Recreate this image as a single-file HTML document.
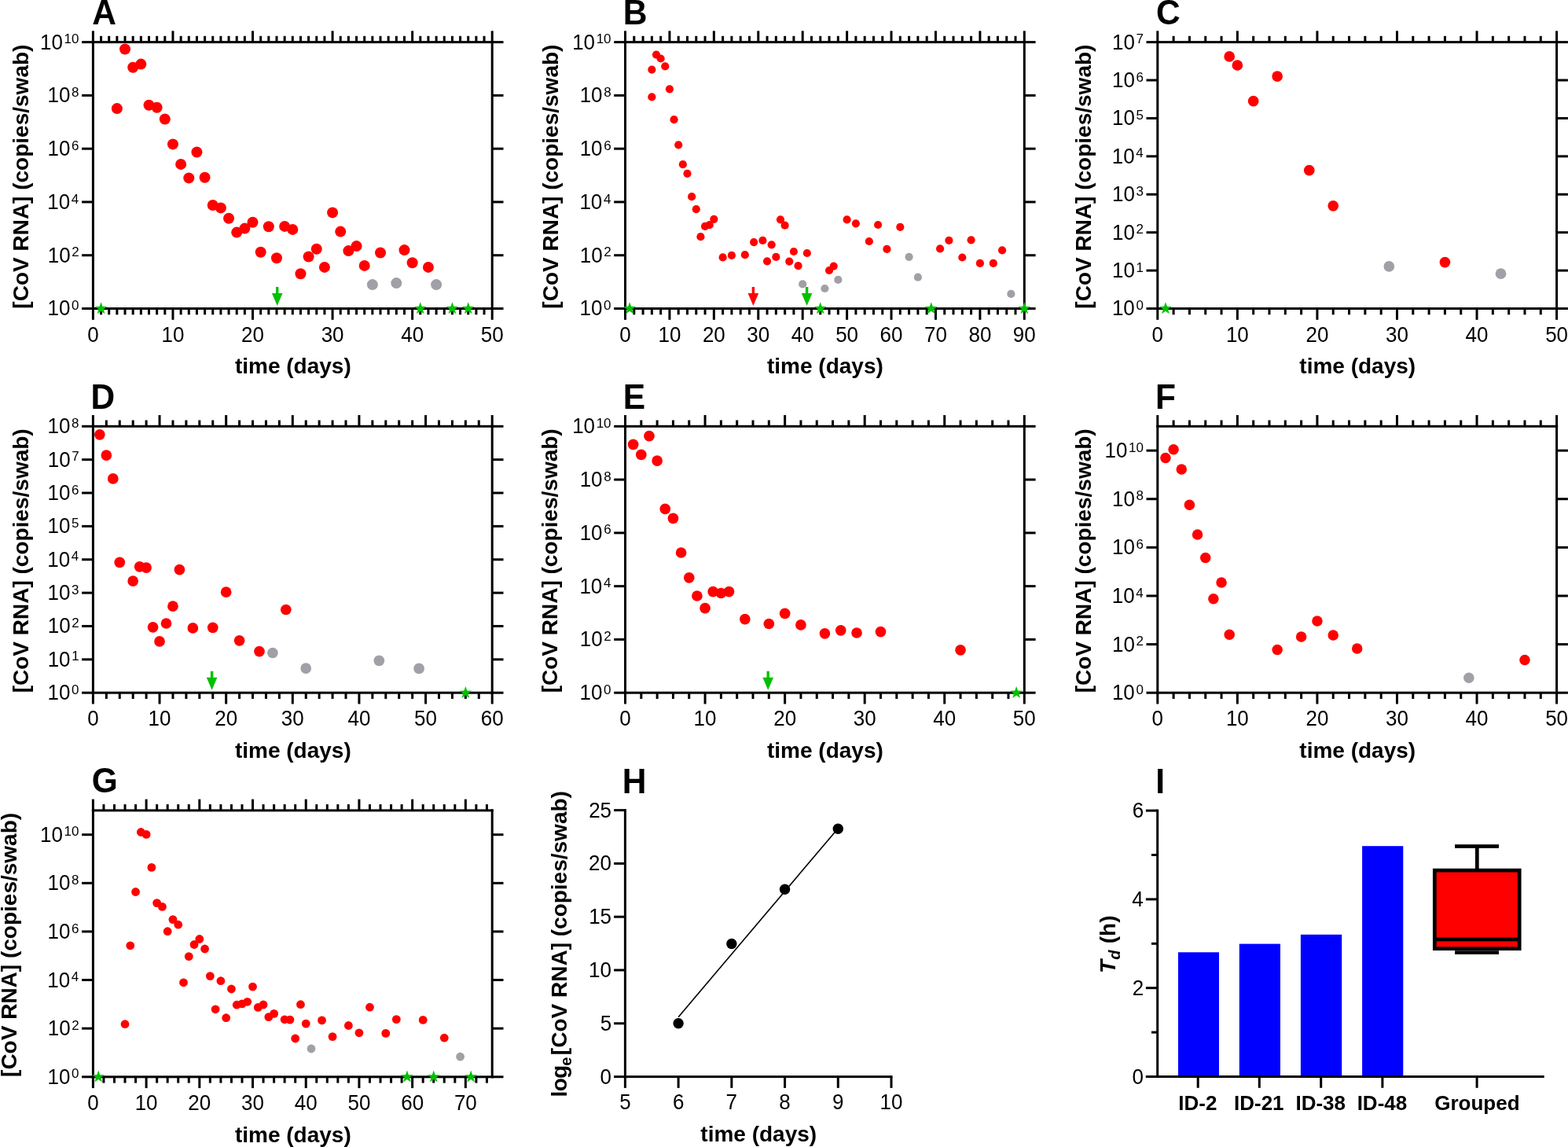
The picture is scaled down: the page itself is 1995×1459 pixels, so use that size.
<!DOCTYPE html>
<html><head><meta charset="utf-8"><title>Figure</title>
<style>html,body{margin:0;padding:0;background:#fff;}svg{display:block;}</style></head>
<body><svg width="1995" height="1459" viewBox="0 0 1995 1459" font-family="'Liberation Sans', Arial, sans-serif">
<rect width="1995" height="1459" fill="#fff"/>
<rect x="104.1" y="391" width="14.3" height="3" fill="#000"/>
<rect x="626.2" y="391" width="14.3" height="3" fill="#000"/>
<rect x="104.1" y="323.22" width="14.3" height="3" fill="#000"/>
<rect x="626.2" y="323.22" width="14.3" height="3" fill="#000"/>
<rect x="104.1" y="255.44" width="14.3" height="3" fill="#000"/>
<rect x="626.2" y="255.44" width="14.3" height="3" fill="#000"/>
<rect x="104.1" y="187.66" width="14.3" height="3" fill="#000"/>
<rect x="626.2" y="187.66" width="14.3" height="3" fill="#000"/>
<rect x="104.1" y="119.88" width="14.3" height="3" fill="#000"/>
<rect x="626.2" y="119.88" width="14.3" height="3" fill="#000"/>
<rect x="104.1" y="52.1" width="14.3" height="3" fill="#000"/>
<rect x="626.2" y="52.1" width="14.3" height="3" fill="#000"/>
<rect x="116.9" y="52.1" width="510.8" height="3" fill="#000"/>
<rect x="116.9" y="391" width="510.8" height="3" fill="#000"/>
<rect x="116.9" y="39.3" width="3" height="14.3" fill="#000"/>
<rect x="116.9" y="392.5" width="3" height="14.3" fill="#000"/>
<rect x="127.06" y="45.8" width="3" height="7.8" fill="#000"/>
<rect x="127.06" y="392.5" width="3" height="7.8" fill="#000"/>
<rect x="137.21" y="45.8" width="3" height="7.8" fill="#000"/>
<rect x="137.21" y="392.5" width="3" height="7.8" fill="#000"/>
<rect x="147.37" y="45.8" width="3" height="7.8" fill="#000"/>
<rect x="147.37" y="392.5" width="3" height="7.8" fill="#000"/>
<rect x="157.52" y="45.8" width="3" height="7.8" fill="#000"/>
<rect x="157.52" y="392.5" width="3" height="7.8" fill="#000"/>
<rect x="167.68" y="45.8" width="3" height="7.8" fill="#000"/>
<rect x="167.68" y="392.5" width="3" height="7.8" fill="#000"/>
<rect x="177.84" y="45.8" width="3" height="7.8" fill="#000"/>
<rect x="177.84" y="392.5" width="3" height="7.8" fill="#000"/>
<rect x="187.99" y="45.8" width="3" height="7.8" fill="#000"/>
<rect x="187.99" y="392.5" width="3" height="7.8" fill="#000"/>
<rect x="198.15" y="45.8" width="3" height="7.8" fill="#000"/>
<rect x="198.15" y="392.5" width="3" height="7.8" fill="#000"/>
<rect x="208.3" y="45.8" width="3" height="7.8" fill="#000"/>
<rect x="208.3" y="392.5" width="3" height="7.8" fill="#000"/>
<rect x="218.46" y="39.3" width="3" height="14.3" fill="#000"/>
<rect x="218.46" y="392.5" width="3" height="14.3" fill="#000"/>
<rect x="228.62" y="45.8" width="3" height="7.8" fill="#000"/>
<rect x="228.62" y="392.5" width="3" height="7.8" fill="#000"/>
<rect x="238.77" y="45.8" width="3" height="7.8" fill="#000"/>
<rect x="238.77" y="392.5" width="3" height="7.8" fill="#000"/>
<rect x="248.93" y="45.8" width="3" height="7.8" fill="#000"/>
<rect x="248.93" y="392.5" width="3" height="7.8" fill="#000"/>
<rect x="259.08" y="45.8" width="3" height="7.8" fill="#000"/>
<rect x="259.08" y="392.5" width="3" height="7.8" fill="#000"/>
<rect x="269.24" y="45.8" width="3" height="7.8" fill="#000"/>
<rect x="269.24" y="392.5" width="3" height="7.8" fill="#000"/>
<rect x="279.4" y="45.8" width="3" height="7.8" fill="#000"/>
<rect x="279.4" y="392.5" width="3" height="7.8" fill="#000"/>
<rect x="289.55" y="45.8" width="3" height="7.8" fill="#000"/>
<rect x="289.55" y="392.5" width="3" height="7.8" fill="#000"/>
<rect x="299.71" y="45.8" width="3" height="7.8" fill="#000"/>
<rect x="299.71" y="392.5" width="3" height="7.8" fill="#000"/>
<rect x="309.86" y="45.8" width="3" height="7.8" fill="#000"/>
<rect x="309.86" y="392.5" width="3" height="7.8" fill="#000"/>
<rect x="320.02" y="39.3" width="3" height="14.3" fill="#000"/>
<rect x="320.02" y="392.5" width="3" height="14.3" fill="#000"/>
<rect x="330.18" y="45.8" width="3" height="7.8" fill="#000"/>
<rect x="330.18" y="392.5" width="3" height="7.8" fill="#000"/>
<rect x="340.33" y="45.8" width="3" height="7.8" fill="#000"/>
<rect x="340.33" y="392.5" width="3" height="7.8" fill="#000"/>
<rect x="350.49" y="45.8" width="3" height="7.8" fill="#000"/>
<rect x="350.49" y="392.5" width="3" height="7.8" fill="#000"/>
<rect x="360.64" y="45.8" width="3" height="7.8" fill="#000"/>
<rect x="360.64" y="392.5" width="3" height="7.8" fill="#000"/>
<rect x="370.8" y="45.8" width="3" height="7.8" fill="#000"/>
<rect x="370.8" y="392.5" width="3" height="7.8" fill="#000"/>
<rect x="380.96" y="45.8" width="3" height="7.8" fill="#000"/>
<rect x="380.96" y="392.5" width="3" height="7.8" fill="#000"/>
<rect x="391.11" y="45.8" width="3" height="7.8" fill="#000"/>
<rect x="391.11" y="392.5" width="3" height="7.8" fill="#000"/>
<rect x="401.27" y="45.8" width="3" height="7.8" fill="#000"/>
<rect x="401.27" y="392.5" width="3" height="7.8" fill="#000"/>
<rect x="411.42" y="45.8" width="3" height="7.8" fill="#000"/>
<rect x="411.42" y="392.5" width="3" height="7.8" fill="#000"/>
<rect x="421.58" y="39.3" width="3" height="14.3" fill="#000"/>
<rect x="421.58" y="392.5" width="3" height="14.3" fill="#000"/>
<rect x="431.74" y="45.8" width="3" height="7.8" fill="#000"/>
<rect x="431.74" y="392.5" width="3" height="7.8" fill="#000"/>
<rect x="441.89" y="45.8" width="3" height="7.8" fill="#000"/>
<rect x="441.89" y="392.5" width="3" height="7.8" fill="#000"/>
<rect x="452.05" y="45.8" width="3" height="7.8" fill="#000"/>
<rect x="452.05" y="392.5" width="3" height="7.8" fill="#000"/>
<rect x="462.2" y="45.8" width="3" height="7.8" fill="#000"/>
<rect x="462.2" y="392.5" width="3" height="7.8" fill="#000"/>
<rect x="472.36" y="45.8" width="3" height="7.8" fill="#000"/>
<rect x="472.36" y="392.5" width="3" height="7.8" fill="#000"/>
<rect x="482.52" y="45.8" width="3" height="7.8" fill="#000"/>
<rect x="482.52" y="392.5" width="3" height="7.8" fill="#000"/>
<rect x="492.67" y="45.8" width="3" height="7.8" fill="#000"/>
<rect x="492.67" y="392.5" width="3" height="7.8" fill="#000"/>
<rect x="502.83" y="45.8" width="3" height="7.8" fill="#000"/>
<rect x="502.83" y="392.5" width="3" height="7.8" fill="#000"/>
<rect x="512.98" y="45.8" width="3" height="7.8" fill="#000"/>
<rect x="512.98" y="392.5" width="3" height="7.8" fill="#000"/>
<rect x="523.14" y="39.3" width="3" height="14.3" fill="#000"/>
<rect x="523.14" y="392.5" width="3" height="14.3" fill="#000"/>
<rect x="533.3" y="45.8" width="3" height="7.8" fill="#000"/>
<rect x="533.3" y="392.5" width="3" height="7.8" fill="#000"/>
<rect x="543.45" y="45.8" width="3" height="7.8" fill="#000"/>
<rect x="543.45" y="392.5" width="3" height="7.8" fill="#000"/>
<rect x="553.61" y="45.8" width="3" height="7.8" fill="#000"/>
<rect x="553.61" y="392.5" width="3" height="7.8" fill="#000"/>
<rect x="563.76" y="45.8" width="3" height="7.8" fill="#000"/>
<rect x="563.76" y="392.5" width="3" height="7.8" fill="#000"/>
<rect x="573.92" y="45.8" width="3" height="7.8" fill="#000"/>
<rect x="573.92" y="392.5" width="3" height="7.8" fill="#000"/>
<rect x="584.08" y="45.8" width="3" height="7.8" fill="#000"/>
<rect x="584.08" y="392.5" width="3" height="7.8" fill="#000"/>
<rect x="594.23" y="45.8" width="3" height="7.8" fill="#000"/>
<rect x="594.23" y="392.5" width="3" height="7.8" fill="#000"/>
<rect x="604.39" y="45.8" width="3" height="7.8" fill="#000"/>
<rect x="604.39" y="392.5" width="3" height="7.8" fill="#000"/>
<rect x="614.54" y="45.8" width="3" height="7.8" fill="#000"/>
<rect x="614.54" y="392.5" width="3" height="7.8" fill="#000"/>
<rect x="624.7" y="39.3" width="3" height="14.3" fill="#000"/>
<rect x="624.7" y="392.5" width="3" height="14.3" fill="#000"/>
<rect x="116.9" y="52.1" width="3" height="341.9" fill="#000"/>
<rect x="624.7" y="52.1" width="3" height="341.9" fill="#000"/>
<text transform="translate(91.01,394.1) scale(1,1.02)" font-size="17">0</text>
<text transform="translate(60.49,401.45) scale(1,1.065)" font-size="26">10</text>
<text transform="translate(91.2,326.32) scale(1,1.02)" font-size="17">2</text>
<text transform="translate(60.68,333.67) scale(1,1.065)" font-size="26">10</text>
<text transform="translate(90.84,258.54) scale(1,1.02)" font-size="17">4</text>
<text transform="translate(60.32,265.89) scale(1,1.065)" font-size="26">10</text>
<text transform="translate(91.09,190.76) scale(1,1.02)" font-size="17">6</text>
<text transform="translate(60.57,198.11) scale(1,1.065)" font-size="26">10</text>
<text transform="translate(91.08,122.98) scale(1,1.02)" font-size="17">8</text>
<text transform="translate(60.56,130.33) scale(1,1.065)" font-size="26">10</text>
<text transform="translate(81.55,55.2) scale(1,1.02)" font-size="17">10</text>
<text transform="translate(51.03,62.55) scale(1,1.065)" font-size="26">10</text>
<text transform="translate(118.4,434.7) scale(1,1.065)" font-size="26" text-anchor="middle">0</text>
<text transform="translate(219.96,434.7) scale(1,1.065)" font-size="26" text-anchor="middle">10</text>
<text transform="translate(321.52,434.7) scale(1,1.065)" font-size="26" text-anchor="middle">20</text>
<text transform="translate(423.08,434.7) scale(1,1.065)" font-size="26" text-anchor="middle">30</text>
<text transform="translate(524.64,434.7) scale(1,1.065)" font-size="26" text-anchor="middle">40</text>
<text transform="translate(626.2,434.7) scale(1,1.065)" font-size="26" text-anchor="middle">50</text>
<circle cx="473.86" cy="362.1" r="7.0" fill="#a0a0a6"/>
<circle cx="504.33" cy="360.1" r="7.0" fill="#a0a0a6"/>
<circle cx="555.11" cy="362.1" r="7.0" fill="#a0a0a6"/>
<circle cx="148.87" cy="138.1" r="7.0" fill="#ff0000"/>
<circle cx="159.02" cy="62.5" r="7.0" fill="#ff0000"/>
<circle cx="169.18" cy="85.7" r="7.0" fill="#ff0000"/>
<circle cx="179.34" cy="81.6" r="7.0" fill="#ff0000"/>
<circle cx="189.49" cy="133.7" r="7.0" fill="#ff0000"/>
<circle cx="199.65" cy="136.7" r="7.0" fill="#ff0000"/>
<circle cx="209.8" cy="151.5" r="7.0" fill="#ff0000"/>
<circle cx="219.96" cy="183.4" r="7.0" fill="#ff0000"/>
<circle cx="230.12" cy="208.9" r="7.0" fill="#ff0000"/>
<circle cx="240.27" cy="226.4" r="7.0" fill="#ff0000"/>
<circle cx="250.43" cy="193.5" r="7.0" fill="#ff0000"/>
<circle cx="260.58" cy="225.7" r="7.0" fill="#ff0000"/>
<circle cx="270.74" cy="261" r="7.0" fill="#ff0000"/>
<circle cx="280.9" cy="264.4" r="7.0" fill="#ff0000"/>
<circle cx="291.05" cy="277.8" r="7.0" fill="#ff0000"/>
<circle cx="301.21" cy="295.6" r="7.0" fill="#ff0000"/>
<circle cx="311.36" cy="290.6" r="7.0" fill="#ff0000"/>
<circle cx="321.52" cy="282.8" r="7.0" fill="#ff0000"/>
<circle cx="331.68" cy="320.8" r="7.0" fill="#ff0000"/>
<circle cx="341.83" cy="288.2" r="7.0" fill="#ff0000"/>
<circle cx="351.99" cy="328.2" r="7.0" fill="#ff0000"/>
<circle cx="362.14" cy="287.9" r="7.0" fill="#ff0000"/>
<circle cx="372.3" cy="291.9" r="7.0" fill="#ff0000"/>
<circle cx="382.46" cy="348.3" r="7.0" fill="#ff0000"/>
<circle cx="392.61" cy="326.5" r="7.0" fill="#ff0000"/>
<circle cx="402.77" cy="316.8" r="7.0" fill="#ff0000"/>
<circle cx="412.92" cy="339.9" r="7.0" fill="#ff0000"/>
<circle cx="423.08" cy="270.4" r="7.0" fill="#ff0000"/>
<circle cx="433.24" cy="294.6" r="7.0" fill="#ff0000"/>
<circle cx="443.39" cy="319.1" r="7.0" fill="#ff0000"/>
<circle cx="453.55" cy="313.1" r="7.0" fill="#ff0000"/>
<circle cx="463.7" cy="337.9" r="7.0" fill="#ff0000"/>
<circle cx="484.02" cy="321.5" r="7.0" fill="#ff0000"/>
<circle cx="514.48" cy="318.1" r="7.0" fill="#ff0000"/>
<circle cx="524.64" cy="334.2" r="7.0" fill="#ff0000"/>
<circle cx="544.95" cy="339.9" r="7.0" fill="#ff0000"/>
<polygon points="128.56,384.2 130.5,389.83 136.45,389.94 131.69,393.52 133.43,399.21 128.56,395.8 123.68,399.21 125.42,393.52 120.66,389.94 126.62,389.83" fill="#00c000"/>
<polygon points="534.8,384.2 536.74,389.83 542.69,389.94 537.93,393.52 539.67,399.21 534.8,395.8 529.92,399.21 531.66,393.52 526.9,389.94 532.86,389.83" fill="#00c000"/>
<polygon points="575.42,384.2 577.36,389.83 583.31,389.94 578.56,393.52 580.3,399.21 575.42,395.8 570.54,399.21 572.28,393.52 567.53,389.94 573.48,389.83" fill="#00c000"/>
<polygon points="595.73,384.2 597.67,389.83 603.63,389.94 598.87,393.52 600.61,399.21 595.73,395.8 590.85,399.21 592.59,393.52 587.84,389.94 593.79,389.83" fill="#00c000"/>
<polygon points="351,365 354.4,365 354.4,373 359.5,373 352.7,389 345.9,373 351,373" fill="#00c000"/>
<text x="298.92" y="475.2" font-size="28" font-weight="bold">time (days)</text>
<text transform="translate(36.1,224.55) rotate(-90)" x="-168.1" y="0" font-size="28" font-weight="bold">[CoV RNA] (copies/swab)</text>
<text transform="translate(117.34,31) scale(1,1.05)" font-size="42.5" font-weight="bold">A</text>
<rect x="781.2" y="391" width="14.3" height="3" fill="#000"/>
<rect x="1303.3" y="391" width="14.3" height="3" fill="#000"/>
<rect x="781.2" y="323.22" width="14.3" height="3" fill="#000"/>
<rect x="1303.3" y="323.22" width="14.3" height="3" fill="#000"/>
<rect x="781.2" y="255.44" width="14.3" height="3" fill="#000"/>
<rect x="1303.3" y="255.44" width="14.3" height="3" fill="#000"/>
<rect x="781.2" y="187.66" width="14.3" height="3" fill="#000"/>
<rect x="1303.3" y="187.66" width="14.3" height="3" fill="#000"/>
<rect x="781.2" y="119.88" width="14.3" height="3" fill="#000"/>
<rect x="1303.3" y="119.88" width="14.3" height="3" fill="#000"/>
<rect x="781.2" y="52.1" width="14.3" height="3" fill="#000"/>
<rect x="1303.3" y="52.1" width="14.3" height="3" fill="#000"/>
<rect x="794" y="52.1" width="510.8" height="3" fill="#000"/>
<rect x="794" y="391" width="510.8" height="3" fill="#000"/>
<rect x="794" y="39.3" width="3" height="14.3" fill="#000"/>
<rect x="794" y="392.5" width="3" height="14.3" fill="#000"/>
<rect x="805.28" y="45.8" width="3" height="7.8" fill="#000"/>
<rect x="805.28" y="392.5" width="3" height="7.8" fill="#000"/>
<rect x="816.57" y="45.8" width="3" height="7.8" fill="#000"/>
<rect x="816.57" y="392.5" width="3" height="7.8" fill="#000"/>
<rect x="827.85" y="45.8" width="3" height="7.8" fill="#000"/>
<rect x="827.85" y="392.5" width="3" height="7.8" fill="#000"/>
<rect x="839.14" y="45.8" width="3" height="7.8" fill="#000"/>
<rect x="839.14" y="392.5" width="3" height="7.8" fill="#000"/>
<rect x="850.42" y="39.3" width="3" height="14.3" fill="#000"/>
<rect x="850.42" y="392.5" width="3" height="14.3" fill="#000"/>
<rect x="861.71" y="45.8" width="3" height="7.8" fill="#000"/>
<rect x="861.71" y="392.5" width="3" height="7.8" fill="#000"/>
<rect x="872.99" y="45.8" width="3" height="7.8" fill="#000"/>
<rect x="872.99" y="392.5" width="3" height="7.8" fill="#000"/>
<rect x="884.28" y="45.8" width="3" height="7.8" fill="#000"/>
<rect x="884.28" y="392.5" width="3" height="7.8" fill="#000"/>
<rect x="895.56" y="45.8" width="3" height="7.8" fill="#000"/>
<rect x="895.56" y="392.5" width="3" height="7.8" fill="#000"/>
<rect x="906.84" y="39.3" width="3" height="14.3" fill="#000"/>
<rect x="906.84" y="392.5" width="3" height="14.3" fill="#000"/>
<rect x="918.13" y="45.8" width="3" height="7.8" fill="#000"/>
<rect x="918.13" y="392.5" width="3" height="7.8" fill="#000"/>
<rect x="929.41" y="45.8" width="3" height="7.8" fill="#000"/>
<rect x="929.41" y="392.5" width="3" height="7.8" fill="#000"/>
<rect x="940.7" y="45.8" width="3" height="7.8" fill="#000"/>
<rect x="940.7" y="392.5" width="3" height="7.8" fill="#000"/>
<rect x="951.98" y="45.8" width="3" height="7.8" fill="#000"/>
<rect x="951.98" y="392.5" width="3" height="7.8" fill="#000"/>
<rect x="963.27" y="39.3" width="3" height="14.3" fill="#000"/>
<rect x="963.27" y="392.5" width="3" height="14.3" fill="#000"/>
<rect x="974.55" y="45.8" width="3" height="7.8" fill="#000"/>
<rect x="974.55" y="392.5" width="3" height="7.8" fill="#000"/>
<rect x="985.84" y="45.8" width="3" height="7.8" fill="#000"/>
<rect x="985.84" y="392.5" width="3" height="7.8" fill="#000"/>
<rect x="997.12" y="45.8" width="3" height="7.8" fill="#000"/>
<rect x="997.12" y="392.5" width="3" height="7.8" fill="#000"/>
<rect x="1008.4" y="45.8" width="3" height="7.8" fill="#000"/>
<rect x="1008.4" y="392.5" width="3" height="7.8" fill="#000"/>
<rect x="1019.69" y="39.3" width="3" height="14.3" fill="#000"/>
<rect x="1019.69" y="392.5" width="3" height="14.3" fill="#000"/>
<rect x="1030.97" y="45.8" width="3" height="7.8" fill="#000"/>
<rect x="1030.97" y="392.5" width="3" height="7.8" fill="#000"/>
<rect x="1042.26" y="45.8" width="3" height="7.8" fill="#000"/>
<rect x="1042.26" y="392.5" width="3" height="7.8" fill="#000"/>
<rect x="1053.54" y="45.8" width="3" height="7.8" fill="#000"/>
<rect x="1053.54" y="392.5" width="3" height="7.8" fill="#000"/>
<rect x="1064.83" y="45.8" width="3" height="7.8" fill="#000"/>
<rect x="1064.83" y="392.5" width="3" height="7.8" fill="#000"/>
<rect x="1076.11" y="39.3" width="3" height="14.3" fill="#000"/>
<rect x="1076.11" y="392.5" width="3" height="14.3" fill="#000"/>
<rect x="1087.4" y="45.8" width="3" height="7.8" fill="#000"/>
<rect x="1087.4" y="392.5" width="3" height="7.8" fill="#000"/>
<rect x="1098.68" y="45.8" width="3" height="7.8" fill="#000"/>
<rect x="1098.68" y="392.5" width="3" height="7.8" fill="#000"/>
<rect x="1109.96" y="45.8" width="3" height="7.8" fill="#000"/>
<rect x="1109.96" y="392.5" width="3" height="7.8" fill="#000"/>
<rect x="1121.25" y="45.8" width="3" height="7.8" fill="#000"/>
<rect x="1121.25" y="392.5" width="3" height="7.8" fill="#000"/>
<rect x="1132.53" y="39.3" width="3" height="14.3" fill="#000"/>
<rect x="1132.53" y="392.5" width="3" height="14.3" fill="#000"/>
<rect x="1143.82" y="45.8" width="3" height="7.8" fill="#000"/>
<rect x="1143.82" y="392.5" width="3" height="7.8" fill="#000"/>
<rect x="1155.1" y="45.8" width="3" height="7.8" fill="#000"/>
<rect x="1155.1" y="392.5" width="3" height="7.8" fill="#000"/>
<rect x="1166.39" y="45.8" width="3" height="7.8" fill="#000"/>
<rect x="1166.39" y="392.5" width="3" height="7.8" fill="#000"/>
<rect x="1177.67" y="45.8" width="3" height="7.8" fill="#000"/>
<rect x="1177.67" y="392.5" width="3" height="7.8" fill="#000"/>
<rect x="1188.96" y="39.3" width="3" height="14.3" fill="#000"/>
<rect x="1188.96" y="392.5" width="3" height="14.3" fill="#000"/>
<rect x="1200.24" y="45.8" width="3" height="7.8" fill="#000"/>
<rect x="1200.24" y="392.5" width="3" height="7.8" fill="#000"/>
<rect x="1211.52" y="45.8" width="3" height="7.8" fill="#000"/>
<rect x="1211.52" y="392.5" width="3" height="7.8" fill="#000"/>
<rect x="1222.81" y="45.8" width="3" height="7.8" fill="#000"/>
<rect x="1222.81" y="392.5" width="3" height="7.8" fill="#000"/>
<rect x="1234.09" y="45.8" width="3" height="7.8" fill="#000"/>
<rect x="1234.09" y="392.5" width="3" height="7.8" fill="#000"/>
<rect x="1245.38" y="39.3" width="3" height="14.3" fill="#000"/>
<rect x="1245.38" y="392.5" width="3" height="14.3" fill="#000"/>
<rect x="1256.66" y="45.8" width="3" height="7.8" fill="#000"/>
<rect x="1256.66" y="392.5" width="3" height="7.8" fill="#000"/>
<rect x="1267.95" y="45.8" width="3" height="7.8" fill="#000"/>
<rect x="1267.95" y="392.5" width="3" height="7.8" fill="#000"/>
<rect x="1279.23" y="45.8" width="3" height="7.8" fill="#000"/>
<rect x="1279.23" y="392.5" width="3" height="7.8" fill="#000"/>
<rect x="1290.52" y="45.8" width="3" height="7.8" fill="#000"/>
<rect x="1290.52" y="392.5" width="3" height="7.8" fill="#000"/>
<rect x="1301.8" y="39.3" width="3" height="14.3" fill="#000"/>
<rect x="1301.8" y="392.5" width="3" height="14.3" fill="#000"/>
<rect x="794" y="52.1" width="3" height="341.9" fill="#000"/>
<rect x="1301.8" y="52.1" width="3" height="341.9" fill="#000"/>
<text transform="translate(768.11,394.1) scale(1,1.02)" font-size="17">0</text>
<text transform="translate(737.59,401.45) scale(1,1.065)" font-size="26">10</text>
<text transform="translate(768.3,326.32) scale(1,1.02)" font-size="17">2</text>
<text transform="translate(737.78,333.67) scale(1,1.065)" font-size="26">10</text>
<text transform="translate(767.94,258.54) scale(1,1.02)" font-size="17">4</text>
<text transform="translate(737.42,265.89) scale(1,1.065)" font-size="26">10</text>
<text transform="translate(768.19,190.76) scale(1,1.02)" font-size="17">6</text>
<text transform="translate(737.67,198.11) scale(1,1.065)" font-size="26">10</text>
<text transform="translate(768.18,122.98) scale(1,1.02)" font-size="17">8</text>
<text transform="translate(737.66,130.33) scale(1,1.065)" font-size="26">10</text>
<text transform="translate(758.65,55.2) scale(1,1.02)" font-size="17">10</text>
<text transform="translate(728.13,62.55) scale(1,1.065)" font-size="26">10</text>
<text transform="translate(795.5,434.7) scale(1,1.065)" font-size="26" text-anchor="middle">0</text>
<text transform="translate(851.92,434.7) scale(1,1.065)" font-size="26" text-anchor="middle">10</text>
<text transform="translate(908.34,434.7) scale(1,1.065)" font-size="26" text-anchor="middle">20</text>
<text transform="translate(964.77,434.7) scale(1,1.065)" font-size="26" text-anchor="middle">30</text>
<text transform="translate(1021.19,434.7) scale(1,1.065)" font-size="26" text-anchor="middle">40</text>
<text transform="translate(1077.61,434.7) scale(1,1.065)" font-size="26" text-anchor="middle">50</text>
<text transform="translate(1134.03,434.7) scale(1,1.065)" font-size="26" text-anchor="middle">60</text>
<text transform="translate(1190.46,434.7) scale(1,1.065)" font-size="26" text-anchor="middle">70</text>
<text transform="translate(1246.88,434.7) scale(1,1.065)" font-size="26" text-anchor="middle">80</text>
<text transform="translate(1303.3,434.7) scale(1,1.065)" font-size="26" text-anchor="middle">90</text>
<circle cx="1021.19" cy="361.4" r="5.1" fill="#a0a0a6"/>
<circle cx="1049.4" cy="367" r="5.1" fill="#a0a0a6"/>
<circle cx="1066.33" cy="355.9" r="5.1" fill="#a0a0a6"/>
<circle cx="1156.6" cy="326.8" r="5.1" fill="#a0a0a6"/>
<circle cx="1167.89" cy="352.7" r="5.1" fill="#a0a0a6"/>
<circle cx="1286.37" cy="373.9" r="5.1" fill="#a0a0a6"/>
<circle cx="829.35" cy="88.6" r="5.1" fill="#ff0000"/>
<circle cx="829.35" cy="123.4" r="5.1" fill="#ff0000"/>
<circle cx="835" cy="69.6" r="5.1" fill="#ff0000"/>
<circle cx="840.64" cy="74.5" r="5.1" fill="#ff0000"/>
<circle cx="846.28" cy="84.4" r="5.1" fill="#ff0000"/>
<circle cx="851.92" cy="113.3" r="5.1" fill="#ff0000"/>
<circle cx="857.56" cy="152.2" r="5.1" fill="#ff0000"/>
<circle cx="863.21" cy="184.3" r="5.1" fill="#ff0000"/>
<circle cx="868.85" cy="209.2" r="5.1" fill="#ff0000"/>
<circle cx="874.49" cy="220.8" r="5.1" fill="#ff0000"/>
<circle cx="880.13" cy="250.2" r="5.1" fill="#ff0000"/>
<circle cx="885.78" cy="266.2" r="5.1" fill="#ff0000"/>
<circle cx="891.42" cy="301.2" r="5.1" fill="#ff0000"/>
<circle cx="897.06" cy="287.9" r="5.1" fill="#ff0000"/>
<circle cx="902.7" cy="286.2" r="5.1" fill="#ff0000"/>
<circle cx="908.34" cy="278.8" r="5.1" fill="#ff0000"/>
<circle cx="919.63" cy="327.4" r="5.1" fill="#ff0000"/>
<circle cx="930.91" cy="324.9" r="5.1" fill="#ff0000"/>
<circle cx="947.84" cy="324.2" r="5.1" fill="#ff0000"/>
<circle cx="959.12" cy="308.1" r="5.1" fill="#ff0000"/>
<circle cx="970.41" cy="305.9" r="5.1" fill="#ff0000"/>
<circle cx="976.05" cy="332.3" r="5.1" fill="#ff0000"/>
<circle cx="981.69" cy="311.3" r="5.1" fill="#ff0000"/>
<circle cx="987.34" cy="326.9" r="5.1" fill="#ff0000"/>
<circle cx="992.98" cy="279.3" r="5.1" fill="#ff0000"/>
<circle cx="998.62" cy="286.7" r="5.1" fill="#ff0000"/>
<circle cx="1004.26" cy="332.6" r="5.1" fill="#ff0000"/>
<circle cx="1009.9" cy="320" r="5.1" fill="#ff0000"/>
<circle cx="1015.55" cy="338.2" r="5.1" fill="#ff0000"/>
<circle cx="1026.83" cy="322" r="5.1" fill="#ff0000"/>
<circle cx="1055.04" cy="344" r="5.1" fill="#ff0000"/>
<circle cx="1060.68" cy="338.6" r="5.1" fill="#ff0000"/>
<circle cx="1077.61" cy="279.4" r="5.1" fill="#ff0000"/>
<circle cx="1088.9" cy="284.3" r="5.1" fill="#ff0000"/>
<circle cx="1105.82" cy="307" r="5.1" fill="#ff0000"/>
<circle cx="1117.11" cy="286" r="5.1" fill="#ff0000"/>
<circle cx="1128.39" cy="316.9" r="5.1" fill="#ff0000"/>
<circle cx="1145.32" cy="288.8" r="5.1" fill="#ff0000"/>
<circle cx="1196.1" cy="316.4" r="5.1" fill="#ff0000"/>
<circle cx="1207.38" cy="305.8" r="5.1" fill="#ff0000"/>
<circle cx="1224.31" cy="327.5" r="5.1" fill="#ff0000"/>
<circle cx="1235.59" cy="305.3" r="5.1" fill="#ff0000"/>
<circle cx="1246.88" cy="334.9" r="5.1" fill="#ff0000"/>
<circle cx="1263.8" cy="334.9" r="5.1" fill="#ff0000"/>
<circle cx="1275.09" cy="318.4" r="5.1" fill="#ff0000"/>
<polygon points="801.14,384.2 803.08,389.83 809.04,389.94 804.28,393.52 806.02,399.21 801.14,395.8 796.26,399.21 798,393.52 793.25,389.94 799.2,389.83" fill="#00c000"/>
<polygon points="1043.76,384.2 1045.7,389.83 1051.65,389.94 1046.9,393.52 1048.64,399.21 1043.76,395.8 1038.88,399.21 1040.62,393.52 1035.86,389.94 1041.82,389.83" fill="#00c000"/>
<polygon points="1184.81,384.2 1186.75,389.83 1192.71,389.94 1187.95,393.52 1189.69,399.21 1184.81,395.8 1179.93,399.21 1181.67,393.52 1176.92,389.94 1182.87,389.83" fill="#00c000"/>
<polygon points="1303.3,384.2 1305.24,389.83 1311.19,389.94 1306.44,393.52 1308.18,399.21 1303.3,395.8 1298.42,399.21 1300.16,393.52 1295.41,389.94 1301.36,389.83" fill="#00c000"/>
<polygon points="956.7,365 960.1,365 960.1,373 965.2,373 958.4,389 951.6,373 956.7,373" fill="#ff0000"/>
<polygon points="1024.9,365 1028.3,365 1028.3,373 1033.4,373 1026.6,389 1019.8,373 1024.9,373" fill="#00c000"/>
<text x="976.02" y="475.2" font-size="28" font-weight="bold">time (days)</text>
<text transform="translate(710.1,224.55) rotate(-90)" x="-168.1" y="0" font-size="28" font-weight="bold">[CoV RNA] (copies/swab)</text>
<text transform="translate(792.66,31) scale(1,1.05)" font-size="42.5" font-weight="bold">B</text>
<rect x="1458.5" y="391" width="14.3" height="3" fill="#000"/>
<rect x="1980.6" y="391" width="14.3" height="3" fill="#000"/>
<rect x="1458.5" y="342.59" width="14.3" height="3" fill="#000"/>
<rect x="1980.6" y="342.59" width="14.3" height="3" fill="#000"/>
<rect x="1458.5" y="294.17" width="14.3" height="3" fill="#000"/>
<rect x="1980.6" y="294.17" width="14.3" height="3" fill="#000"/>
<rect x="1458.5" y="245.76" width="14.3" height="3" fill="#000"/>
<rect x="1980.6" y="245.76" width="14.3" height="3" fill="#000"/>
<rect x="1458.5" y="197.34" width="14.3" height="3" fill="#000"/>
<rect x="1980.6" y="197.34" width="14.3" height="3" fill="#000"/>
<rect x="1458.5" y="148.93" width="14.3" height="3" fill="#000"/>
<rect x="1980.6" y="148.93" width="14.3" height="3" fill="#000"/>
<rect x="1458.5" y="100.51" width="14.3" height="3" fill="#000"/>
<rect x="1980.6" y="100.51" width="14.3" height="3" fill="#000"/>
<rect x="1458.5" y="52.1" width="14.3" height="3" fill="#000"/>
<rect x="1980.6" y="52.1" width="14.3" height="3" fill="#000"/>
<rect x="1471.3" y="52.1" width="510.8" height="3" fill="#000"/>
<rect x="1471.3" y="391" width="510.8" height="3" fill="#000"/>
<rect x="1471.3" y="39.3" width="3" height="14.3" fill="#000"/>
<rect x="1471.3" y="392.5" width="3" height="14.3" fill="#000"/>
<rect x="1491.61" y="45.8" width="3" height="7.8" fill="#000"/>
<rect x="1491.61" y="392.5" width="3" height="7.8" fill="#000"/>
<rect x="1511.92" y="45.8" width="3" height="7.8" fill="#000"/>
<rect x="1511.92" y="392.5" width="3" height="7.8" fill="#000"/>
<rect x="1532.24" y="45.8" width="3" height="7.8" fill="#000"/>
<rect x="1532.24" y="392.5" width="3" height="7.8" fill="#000"/>
<rect x="1552.55" y="45.8" width="3" height="7.8" fill="#000"/>
<rect x="1552.55" y="392.5" width="3" height="7.8" fill="#000"/>
<rect x="1572.86" y="39.3" width="3" height="14.3" fill="#000"/>
<rect x="1572.86" y="392.5" width="3" height="14.3" fill="#000"/>
<rect x="1593.17" y="45.8" width="3" height="7.8" fill="#000"/>
<rect x="1593.17" y="392.5" width="3" height="7.8" fill="#000"/>
<rect x="1613.48" y="45.8" width="3" height="7.8" fill="#000"/>
<rect x="1613.48" y="392.5" width="3" height="7.8" fill="#000"/>
<rect x="1633.8" y="45.8" width="3" height="7.8" fill="#000"/>
<rect x="1633.8" y="392.5" width="3" height="7.8" fill="#000"/>
<rect x="1654.11" y="45.8" width="3" height="7.8" fill="#000"/>
<rect x="1654.11" y="392.5" width="3" height="7.8" fill="#000"/>
<rect x="1674.42" y="39.3" width="3" height="14.3" fill="#000"/>
<rect x="1674.42" y="392.5" width="3" height="14.3" fill="#000"/>
<rect x="1694.73" y="45.8" width="3" height="7.8" fill="#000"/>
<rect x="1694.73" y="392.5" width="3" height="7.8" fill="#000"/>
<rect x="1715.04" y="45.8" width="3" height="7.8" fill="#000"/>
<rect x="1715.04" y="392.5" width="3" height="7.8" fill="#000"/>
<rect x="1735.36" y="45.8" width="3" height="7.8" fill="#000"/>
<rect x="1735.36" y="392.5" width="3" height="7.8" fill="#000"/>
<rect x="1755.67" y="45.8" width="3" height="7.8" fill="#000"/>
<rect x="1755.67" y="392.5" width="3" height="7.8" fill="#000"/>
<rect x="1775.98" y="39.3" width="3" height="14.3" fill="#000"/>
<rect x="1775.98" y="392.5" width="3" height="14.3" fill="#000"/>
<rect x="1796.29" y="45.8" width="3" height="7.8" fill="#000"/>
<rect x="1796.29" y="392.5" width="3" height="7.8" fill="#000"/>
<rect x="1816.6" y="45.8" width="3" height="7.8" fill="#000"/>
<rect x="1816.6" y="392.5" width="3" height="7.8" fill="#000"/>
<rect x="1836.92" y="45.8" width="3" height="7.8" fill="#000"/>
<rect x="1836.92" y="392.5" width="3" height="7.8" fill="#000"/>
<rect x="1857.23" y="45.8" width="3" height="7.8" fill="#000"/>
<rect x="1857.23" y="392.5" width="3" height="7.8" fill="#000"/>
<rect x="1877.54" y="39.3" width="3" height="14.3" fill="#000"/>
<rect x="1877.54" y="392.5" width="3" height="14.3" fill="#000"/>
<rect x="1897.85" y="45.8" width="3" height="7.8" fill="#000"/>
<rect x="1897.85" y="392.5" width="3" height="7.8" fill="#000"/>
<rect x="1918.16" y="45.8" width="3" height="7.8" fill="#000"/>
<rect x="1918.16" y="392.5" width="3" height="7.8" fill="#000"/>
<rect x="1938.48" y="45.8" width="3" height="7.8" fill="#000"/>
<rect x="1938.48" y="392.5" width="3" height="7.8" fill="#000"/>
<rect x="1958.79" y="45.8" width="3" height="7.8" fill="#000"/>
<rect x="1958.79" y="392.5" width="3" height="7.8" fill="#000"/>
<rect x="1979.1" y="39.3" width="3" height="14.3" fill="#000"/>
<rect x="1979.1" y="392.5" width="3" height="14.3" fill="#000"/>
<rect x="1471.3" y="52.1" width="3" height="341.9" fill="#000"/>
<rect x="1979.1" y="52.1" width="3" height="341.9" fill="#000"/>
<text transform="translate(1445.41,394.1) scale(1,1.02)" font-size="17">0</text>
<text transform="translate(1414.89,401.45) scale(1,1.065)" font-size="26">10</text>
<text transform="translate(1445.58,345.69) scale(1,1.02)" font-size="17">1</text>
<text transform="translate(1415.06,353.04) scale(1,1.065)" font-size="26">10</text>
<text transform="translate(1445.6,297.27) scale(1,1.02)" font-size="17">2</text>
<text transform="translate(1415.08,304.62) scale(1,1.065)" font-size="26">10</text>
<text transform="translate(1445.49,248.86) scale(1,1.02)" font-size="17">3</text>
<text transform="translate(1414.97,256.21) scale(1,1.065)" font-size="26">10</text>
<text transform="translate(1445.24,200.44) scale(1,1.02)" font-size="17">4</text>
<text transform="translate(1414.72,207.79) scale(1,1.065)" font-size="26">10</text>
<text transform="translate(1445.46,152.03) scale(1,1.02)" font-size="17">5</text>
<text transform="translate(1414.94,159.38) scale(1,1.065)" font-size="26">10</text>
<text transform="translate(1445.49,103.61) scale(1,1.02)" font-size="17">6</text>
<text transform="translate(1414.97,110.96) scale(1,1.065)" font-size="26">10</text>
<text transform="translate(1445.6,55.2) scale(1,1.02)" font-size="17">7</text>
<text transform="translate(1415.08,62.55) scale(1,1.065)" font-size="26">10</text>
<text transform="translate(1472.8,434.7) scale(1,1.065)" font-size="26" text-anchor="middle">0</text>
<text transform="translate(1574.36,434.7) scale(1,1.065)" font-size="26" text-anchor="middle">10</text>
<text transform="translate(1675.92,434.7) scale(1,1.065)" font-size="26" text-anchor="middle">20</text>
<text transform="translate(1777.48,434.7) scale(1,1.065)" font-size="26" text-anchor="middle">30</text>
<text transform="translate(1879.04,434.7) scale(1,1.065)" font-size="26" text-anchor="middle">40</text>
<text transform="translate(1980.6,434.7) scale(1,1.065)" font-size="26" text-anchor="middle">50</text>
<circle cx="1767.32" cy="338.9" r="6.85" fill="#a0a0a6"/>
<circle cx="1909.51" cy="348.2" r="6.85" fill="#a0a0a6"/>
<circle cx="1564.2" cy="71.9" r="6.85" fill="#ff0000"/>
<circle cx="1574.36" cy="83" r="6.85" fill="#ff0000"/>
<circle cx="1594.67" cy="128.7" r="6.85" fill="#ff0000"/>
<circle cx="1625.14" cy="97.1" r="6.85" fill="#ff0000"/>
<circle cx="1665.76" cy="216.7" r="6.85" fill="#ff0000"/>
<circle cx="1696.23" cy="261.8" r="6.85" fill="#ff0000"/>
<circle cx="1838.42" cy="333.6" r="6.85" fill="#ff0000"/>
<polygon points="1482.96,384.2 1484.9,389.83 1490.85,389.94 1486.09,393.52 1487.83,399.21 1482.96,395.8 1478.08,399.21 1479.82,393.52 1475.06,389.94 1481.02,389.83" fill="#00c000"/>
<text x="1653.32" y="475.2" font-size="28" font-weight="bold">time (days)</text>
<text transform="translate(1388,224.55) rotate(-90)" x="-168.1" y="0" font-size="28" font-weight="bold">[CoV RNA] (copies/swab)</text>
<text transform="translate(1471.06,31) scale(1,1.05)" font-size="42.5" font-weight="bold">C</text>
<rect x="104.1" y="879.7" width="14.3" height="3" fill="#000"/>
<rect x="626.2" y="879.7" width="14.3" height="3" fill="#000"/>
<rect x="104.1" y="837.34" width="14.3" height="3" fill="#000"/>
<rect x="626.2" y="837.34" width="14.3" height="3" fill="#000"/>
<rect x="104.1" y="794.97" width="14.3" height="3" fill="#000"/>
<rect x="626.2" y="794.97" width="14.3" height="3" fill="#000"/>
<rect x="104.1" y="752.61" width="14.3" height="3" fill="#000"/>
<rect x="626.2" y="752.61" width="14.3" height="3" fill="#000"/>
<rect x="104.1" y="710.25" width="14.3" height="3" fill="#000"/>
<rect x="626.2" y="710.25" width="14.3" height="3" fill="#000"/>
<rect x="104.1" y="667.89" width="14.3" height="3" fill="#000"/>
<rect x="626.2" y="667.89" width="14.3" height="3" fill="#000"/>
<rect x="104.1" y="625.52" width="14.3" height="3" fill="#000"/>
<rect x="626.2" y="625.52" width="14.3" height="3" fill="#000"/>
<rect x="104.1" y="583.16" width="14.3" height="3" fill="#000"/>
<rect x="626.2" y="583.16" width="14.3" height="3" fill="#000"/>
<rect x="104.1" y="540.8" width="14.3" height="3" fill="#000"/>
<rect x="626.2" y="540.8" width="14.3" height="3" fill="#000"/>
<rect x="116.9" y="540.8" width="510.8" height="3" fill="#000"/>
<rect x="116.9" y="879.7" width="510.8" height="3" fill="#000"/>
<rect x="116.9" y="528" width="3" height="14.3" fill="#000"/>
<rect x="116.9" y="881.2" width="3" height="14.3" fill="#000"/>
<rect x="133.83" y="534.5" width="3" height="7.8" fill="#000"/>
<rect x="133.83" y="881.2" width="3" height="7.8" fill="#000"/>
<rect x="150.75" y="534.5" width="3" height="7.8" fill="#000"/>
<rect x="150.75" y="881.2" width="3" height="7.8" fill="#000"/>
<rect x="167.68" y="534.5" width="3" height="7.8" fill="#000"/>
<rect x="167.68" y="881.2" width="3" height="7.8" fill="#000"/>
<rect x="184.61" y="534.5" width="3" height="7.8" fill="#000"/>
<rect x="184.61" y="881.2" width="3" height="7.8" fill="#000"/>
<rect x="201.53" y="528" width="3" height="14.3" fill="#000"/>
<rect x="201.53" y="881.2" width="3" height="14.3" fill="#000"/>
<rect x="218.46" y="534.5" width="3" height="7.8" fill="#000"/>
<rect x="218.46" y="881.2" width="3" height="7.8" fill="#000"/>
<rect x="235.39" y="534.5" width="3" height="7.8" fill="#000"/>
<rect x="235.39" y="881.2" width="3" height="7.8" fill="#000"/>
<rect x="252.31" y="534.5" width="3" height="7.8" fill="#000"/>
<rect x="252.31" y="881.2" width="3" height="7.8" fill="#000"/>
<rect x="269.24" y="534.5" width="3" height="7.8" fill="#000"/>
<rect x="269.24" y="881.2" width="3" height="7.8" fill="#000"/>
<rect x="286.17" y="528" width="3" height="14.3" fill="#000"/>
<rect x="286.17" y="881.2" width="3" height="14.3" fill="#000"/>
<rect x="303.09" y="534.5" width="3" height="7.8" fill="#000"/>
<rect x="303.09" y="881.2" width="3" height="7.8" fill="#000"/>
<rect x="320.02" y="534.5" width="3" height="7.8" fill="#000"/>
<rect x="320.02" y="881.2" width="3" height="7.8" fill="#000"/>
<rect x="336.95" y="534.5" width="3" height="7.8" fill="#000"/>
<rect x="336.95" y="881.2" width="3" height="7.8" fill="#000"/>
<rect x="353.87" y="534.5" width="3" height="7.8" fill="#000"/>
<rect x="353.87" y="881.2" width="3" height="7.8" fill="#000"/>
<rect x="370.8" y="528" width="3" height="14.3" fill="#000"/>
<rect x="370.8" y="881.2" width="3" height="14.3" fill="#000"/>
<rect x="387.73" y="534.5" width="3" height="7.8" fill="#000"/>
<rect x="387.73" y="881.2" width="3" height="7.8" fill="#000"/>
<rect x="404.65" y="534.5" width="3" height="7.8" fill="#000"/>
<rect x="404.65" y="881.2" width="3" height="7.8" fill="#000"/>
<rect x="421.58" y="534.5" width="3" height="7.8" fill="#000"/>
<rect x="421.58" y="881.2" width="3" height="7.8" fill="#000"/>
<rect x="438.51" y="534.5" width="3" height="7.8" fill="#000"/>
<rect x="438.51" y="881.2" width="3" height="7.8" fill="#000"/>
<rect x="455.43" y="528" width="3" height="14.3" fill="#000"/>
<rect x="455.43" y="881.2" width="3" height="14.3" fill="#000"/>
<rect x="472.36" y="534.5" width="3" height="7.8" fill="#000"/>
<rect x="472.36" y="881.2" width="3" height="7.8" fill="#000"/>
<rect x="489.29" y="534.5" width="3" height="7.8" fill="#000"/>
<rect x="489.29" y="881.2" width="3" height="7.8" fill="#000"/>
<rect x="506.21" y="534.5" width="3" height="7.8" fill="#000"/>
<rect x="506.21" y="881.2" width="3" height="7.8" fill="#000"/>
<rect x="523.14" y="534.5" width="3" height="7.8" fill="#000"/>
<rect x="523.14" y="881.2" width="3" height="7.8" fill="#000"/>
<rect x="540.07" y="528" width="3" height="14.3" fill="#000"/>
<rect x="540.07" y="881.2" width="3" height="14.3" fill="#000"/>
<rect x="556.99" y="534.5" width="3" height="7.8" fill="#000"/>
<rect x="556.99" y="881.2" width="3" height="7.8" fill="#000"/>
<rect x="573.92" y="534.5" width="3" height="7.8" fill="#000"/>
<rect x="573.92" y="881.2" width="3" height="7.8" fill="#000"/>
<rect x="590.85" y="534.5" width="3" height="7.8" fill="#000"/>
<rect x="590.85" y="881.2" width="3" height="7.8" fill="#000"/>
<rect x="607.77" y="534.5" width="3" height="7.8" fill="#000"/>
<rect x="607.77" y="881.2" width="3" height="7.8" fill="#000"/>
<rect x="624.7" y="528" width="3" height="14.3" fill="#000"/>
<rect x="624.7" y="881.2" width="3" height="14.3" fill="#000"/>
<rect x="116.9" y="540.8" width="3" height="341.9" fill="#000"/>
<rect x="624.7" y="540.8" width="3" height="341.9" fill="#000"/>
<text transform="translate(91.01,882.8) scale(1,1.02)" font-size="17">0</text>
<text transform="translate(60.49,890.15) scale(1,1.065)" font-size="26">10</text>
<text transform="translate(91.18,840.44) scale(1,1.02)" font-size="17">1</text>
<text transform="translate(60.66,847.79) scale(1,1.065)" font-size="26">10</text>
<text transform="translate(91.2,798.07) scale(1,1.02)" font-size="17">2</text>
<text transform="translate(60.68,805.42) scale(1,1.065)" font-size="26">10</text>
<text transform="translate(91.09,755.71) scale(1,1.02)" font-size="17">3</text>
<text transform="translate(60.57,763.06) scale(1,1.065)" font-size="26">10</text>
<text transform="translate(90.84,713.35) scale(1,1.02)" font-size="17">4</text>
<text transform="translate(60.32,720.7) scale(1,1.065)" font-size="26">10</text>
<text transform="translate(91.06,670.99) scale(1,1.02)" font-size="17">5</text>
<text transform="translate(60.54,678.34) scale(1,1.065)" font-size="26">10</text>
<text transform="translate(91.09,628.62) scale(1,1.02)" font-size="17">6</text>
<text transform="translate(60.57,635.98) scale(1,1.065)" font-size="26">10</text>
<text transform="translate(91.2,586.26) scale(1,1.02)" font-size="17">7</text>
<text transform="translate(60.68,593.61) scale(1,1.065)" font-size="26">10</text>
<text transform="translate(91.08,543.9) scale(1,1.02)" font-size="17">8</text>
<text transform="translate(60.56,551.25) scale(1,1.065)" font-size="26">10</text>
<text transform="translate(118.4,923.4) scale(1,1.065)" font-size="26" text-anchor="middle">0</text>
<text transform="translate(203.03,923.4) scale(1,1.065)" font-size="26" text-anchor="middle">10</text>
<text transform="translate(287.67,923.4) scale(1,1.065)" font-size="26" text-anchor="middle">20</text>
<text transform="translate(372.3,923.4) scale(1,1.065)" font-size="26" text-anchor="middle">30</text>
<text transform="translate(456.93,923.4) scale(1,1.065)" font-size="26" text-anchor="middle">40</text>
<text transform="translate(541.57,923.4) scale(1,1.065)" font-size="26" text-anchor="middle">50</text>
<text transform="translate(626.2,923.4) scale(1,1.065)" font-size="26" text-anchor="middle">60</text>
<circle cx="346.91" cy="830.5" r="6.85" fill="#a0a0a6"/>
<circle cx="389.23" cy="850.1" r="6.85" fill="#a0a0a6"/>
<circle cx="482.32" cy="840.3" r="6.85" fill="#a0a0a6"/>
<circle cx="533.1" cy="850.4" r="6.85" fill="#a0a0a6"/>
<circle cx="126.86" cy="552.8" r="6.85" fill="#ff0000"/>
<circle cx="135.33" cy="579.1" r="6.85" fill="#ff0000"/>
<circle cx="143.79" cy="608.9" r="6.85" fill="#ff0000"/>
<circle cx="152.25" cy="715.4" r="6.85" fill="#ff0000"/>
<circle cx="169.18" cy="739.1" r="6.85" fill="#ff0000"/>
<circle cx="177.64" cy="720.8" r="6.85" fill="#ff0000"/>
<circle cx="186.11" cy="722.1" r="6.85" fill="#ff0000"/>
<circle cx="194.57" cy="797.8" r="6.85" fill="#ff0000"/>
<circle cx="203.03" cy="815.9" r="6.85" fill="#ff0000"/>
<circle cx="211.5" cy="793" r="6.85" fill="#ff0000"/>
<circle cx="219.96" cy="771.2" r="6.85" fill="#ff0000"/>
<circle cx="228.42" cy="724.7" r="6.85" fill="#ff0000"/>
<circle cx="245.35" cy="798.9" r="6.85" fill="#ff0000"/>
<circle cx="270.74" cy="798.3" r="6.85" fill="#ff0000"/>
<circle cx="287.67" cy="753.2" r="6.85" fill="#ff0000"/>
<circle cx="304.59" cy="814.8" r="6.85" fill="#ff0000"/>
<circle cx="329.98" cy="828.6" r="6.85" fill="#ff0000"/>
<circle cx="363.84" cy="775.5" r="6.85" fill="#ff0000"/>
<polygon points="592.35,872.9 594.29,878.53 600.24,878.64 595.49,882.22 597.23,887.91 592.35,884.5 587.47,887.91 589.21,882.22 584.45,878.64 590.41,878.53" fill="#00c000"/>
<polygon points="267.9,853.7 271.3,853.7 271.3,861.7 276.4,861.7 269.6,877.7 262.8,861.7 267.9,861.7" fill="#00c000"/>
<text x="298.92" y="963.9" font-size="28" font-weight="bold">time (days)</text>
<text transform="translate(36.3,713.25) rotate(-90)" x="-168.1" y="0" font-size="28" font-weight="bold">[CoV RNA] (copies/swab)</text>
<text transform="translate(115.56,519.7) scale(1,1.05)" font-size="42.5" font-weight="bold">D</text>
<rect x="781.2" y="879.7" width="14.3" height="3" fill="#000"/>
<rect x="1303.3" y="879.7" width="14.3" height="3" fill="#000"/>
<rect x="781.2" y="811.92" width="14.3" height="3" fill="#000"/>
<rect x="1303.3" y="811.92" width="14.3" height="3" fill="#000"/>
<rect x="781.2" y="744.14" width="14.3" height="3" fill="#000"/>
<rect x="1303.3" y="744.14" width="14.3" height="3" fill="#000"/>
<rect x="781.2" y="676.36" width="14.3" height="3" fill="#000"/>
<rect x="1303.3" y="676.36" width="14.3" height="3" fill="#000"/>
<rect x="781.2" y="608.58" width="14.3" height="3" fill="#000"/>
<rect x="1303.3" y="608.58" width="14.3" height="3" fill="#000"/>
<rect x="781.2" y="540.8" width="14.3" height="3" fill="#000"/>
<rect x="1303.3" y="540.8" width="14.3" height="3" fill="#000"/>
<rect x="794" y="540.8" width="510.8" height="3" fill="#000"/>
<rect x="794" y="879.7" width="510.8" height="3" fill="#000"/>
<rect x="794" y="528" width="3" height="14.3" fill="#000"/>
<rect x="794" y="881.2" width="3" height="14.3" fill="#000"/>
<rect x="814.31" y="534.5" width="3" height="7.8" fill="#000"/>
<rect x="814.31" y="881.2" width="3" height="7.8" fill="#000"/>
<rect x="834.62" y="534.5" width="3" height="7.8" fill="#000"/>
<rect x="834.62" y="881.2" width="3" height="7.8" fill="#000"/>
<rect x="854.94" y="534.5" width="3" height="7.8" fill="#000"/>
<rect x="854.94" y="881.2" width="3" height="7.8" fill="#000"/>
<rect x="875.25" y="534.5" width="3" height="7.8" fill="#000"/>
<rect x="875.25" y="881.2" width="3" height="7.8" fill="#000"/>
<rect x="895.56" y="528" width="3" height="14.3" fill="#000"/>
<rect x="895.56" y="881.2" width="3" height="14.3" fill="#000"/>
<rect x="915.87" y="534.5" width="3" height="7.8" fill="#000"/>
<rect x="915.87" y="881.2" width="3" height="7.8" fill="#000"/>
<rect x="936.18" y="534.5" width="3" height="7.8" fill="#000"/>
<rect x="936.18" y="881.2" width="3" height="7.8" fill="#000"/>
<rect x="956.5" y="534.5" width="3" height="7.8" fill="#000"/>
<rect x="956.5" y="881.2" width="3" height="7.8" fill="#000"/>
<rect x="976.81" y="534.5" width="3" height="7.8" fill="#000"/>
<rect x="976.81" y="881.2" width="3" height="7.8" fill="#000"/>
<rect x="997.12" y="528" width="3" height="14.3" fill="#000"/>
<rect x="997.12" y="881.2" width="3" height="14.3" fill="#000"/>
<rect x="1017.43" y="534.5" width="3" height="7.8" fill="#000"/>
<rect x="1017.43" y="881.2" width="3" height="7.8" fill="#000"/>
<rect x="1037.74" y="534.5" width="3" height="7.8" fill="#000"/>
<rect x="1037.74" y="881.2" width="3" height="7.8" fill="#000"/>
<rect x="1058.06" y="534.5" width="3" height="7.8" fill="#000"/>
<rect x="1058.06" y="881.2" width="3" height="7.8" fill="#000"/>
<rect x="1078.37" y="534.5" width="3" height="7.8" fill="#000"/>
<rect x="1078.37" y="881.2" width="3" height="7.8" fill="#000"/>
<rect x="1098.68" y="528" width="3" height="14.3" fill="#000"/>
<rect x="1098.68" y="881.2" width="3" height="14.3" fill="#000"/>
<rect x="1118.99" y="534.5" width="3" height="7.8" fill="#000"/>
<rect x="1118.99" y="881.2" width="3" height="7.8" fill="#000"/>
<rect x="1139.3" y="534.5" width="3" height="7.8" fill="#000"/>
<rect x="1139.3" y="881.2" width="3" height="7.8" fill="#000"/>
<rect x="1159.62" y="534.5" width="3" height="7.8" fill="#000"/>
<rect x="1159.62" y="881.2" width="3" height="7.8" fill="#000"/>
<rect x="1179.93" y="534.5" width="3" height="7.8" fill="#000"/>
<rect x="1179.93" y="881.2" width="3" height="7.8" fill="#000"/>
<rect x="1200.24" y="528" width="3" height="14.3" fill="#000"/>
<rect x="1200.24" y="881.2" width="3" height="14.3" fill="#000"/>
<rect x="1220.55" y="534.5" width="3" height="7.8" fill="#000"/>
<rect x="1220.55" y="881.2" width="3" height="7.8" fill="#000"/>
<rect x="1240.86" y="534.5" width="3" height="7.8" fill="#000"/>
<rect x="1240.86" y="881.2" width="3" height="7.8" fill="#000"/>
<rect x="1261.18" y="534.5" width="3" height="7.8" fill="#000"/>
<rect x="1261.18" y="881.2" width="3" height="7.8" fill="#000"/>
<rect x="1281.49" y="534.5" width="3" height="7.8" fill="#000"/>
<rect x="1281.49" y="881.2" width="3" height="7.8" fill="#000"/>
<rect x="1301.8" y="528" width="3" height="14.3" fill="#000"/>
<rect x="1301.8" y="881.2" width="3" height="14.3" fill="#000"/>
<rect x="794" y="540.8" width="3" height="341.9" fill="#000"/>
<rect x="1301.8" y="540.8" width="3" height="341.9" fill="#000"/>
<text transform="translate(768.11,882.8) scale(1,1.02)" font-size="17">0</text>
<text transform="translate(737.59,890.15) scale(1,1.065)" font-size="26">10</text>
<text transform="translate(768.3,815.02) scale(1,1.02)" font-size="17">2</text>
<text transform="translate(737.78,822.37) scale(1,1.065)" font-size="26">10</text>
<text transform="translate(767.94,747.24) scale(1,1.02)" font-size="17">4</text>
<text transform="translate(737.42,754.59) scale(1,1.065)" font-size="26">10</text>
<text transform="translate(768.19,679.46) scale(1,1.02)" font-size="17">6</text>
<text transform="translate(737.67,686.81) scale(1,1.065)" font-size="26">10</text>
<text transform="translate(768.18,611.68) scale(1,1.02)" font-size="17">8</text>
<text transform="translate(737.66,619.03) scale(1,1.065)" font-size="26">10</text>
<text transform="translate(758.65,543.9) scale(1,1.02)" font-size="17">10</text>
<text transform="translate(728.13,551.25) scale(1,1.065)" font-size="26">10</text>
<text transform="translate(795.5,923.4) scale(1,1.065)" font-size="26" text-anchor="middle">0</text>
<text transform="translate(897.06,923.4) scale(1,1.065)" font-size="26" text-anchor="middle">10</text>
<text transform="translate(998.62,923.4) scale(1,1.065)" font-size="26" text-anchor="middle">20</text>
<text transform="translate(1100.18,923.4) scale(1,1.065)" font-size="26" text-anchor="middle">30</text>
<text transform="translate(1201.74,923.4) scale(1,1.065)" font-size="26" text-anchor="middle">40</text>
<text transform="translate(1303.3,923.4) scale(1,1.065)" font-size="26" text-anchor="middle">50</text>
<circle cx="805.66" cy="565.3" r="6.85" fill="#ff0000"/>
<circle cx="815.81" cy="578.4" r="6.85" fill="#ff0000"/>
<circle cx="825.97" cy="554.7" r="6.85" fill="#ff0000"/>
<circle cx="836.12" cy="586.1" r="6.85" fill="#ff0000"/>
<circle cx="846.28" cy="647.4" r="6.85" fill="#ff0000"/>
<circle cx="856.44" cy="659.4" r="6.85" fill="#ff0000"/>
<circle cx="866.59" cy="703" r="6.85" fill="#ff0000"/>
<circle cx="876.75" cy="734.8" r="6.85" fill="#ff0000"/>
<circle cx="886.9" cy="758" r="6.85" fill="#ff0000"/>
<circle cx="897.06" cy="773.6" r="6.85" fill="#ff0000"/>
<circle cx="907.22" cy="752.6" r="6.85" fill="#ff0000"/>
<circle cx="917.37" cy="754.5" r="6.85" fill="#ff0000"/>
<circle cx="927.53" cy="752.6" r="6.85" fill="#ff0000"/>
<circle cx="947.84" cy="787.7" r="6.85" fill="#ff0000"/>
<circle cx="978.31" cy="793.5" r="6.85" fill="#ff0000"/>
<circle cx="998.62" cy="780.3" r="6.85" fill="#ff0000"/>
<circle cx="1018.93" cy="794.9" r="6.85" fill="#ff0000"/>
<circle cx="1049.4" cy="805.8" r="6.85" fill="#ff0000"/>
<circle cx="1069.71" cy="801.8" r="6.85" fill="#ff0000"/>
<circle cx="1090.02" cy="805" r="6.85" fill="#ff0000"/>
<circle cx="1120.49" cy="803.6" r="6.85" fill="#ff0000"/>
<circle cx="1222.05" cy="826.8" r="6.85" fill="#ff0000"/>
<polygon points="1293.14,872.9 1295.08,878.53 1301.04,878.64 1296.28,882.22 1298.02,887.91 1293.14,884.5 1288.27,887.91 1290.01,882.22 1285.25,878.64 1291.2,878.53" fill="#00c000"/>
<polygon points="975.5,853.7 978.9,853.7 978.9,861.7 984,861.7 977.2,877.7 970.4,861.7 975.5,861.7" fill="#00c000"/>
<text x="976.02" y="963.9" font-size="28" font-weight="bold">time (days)</text>
<text transform="translate(709.2,713.25) rotate(-90)" x="-168.1" y="0" font-size="28" font-weight="bold">[CoV RNA] (copies/swab)</text>
<text transform="translate(792.66,519.7) scale(1,1.05)" font-size="42.5" font-weight="bold">E</text>
<rect x="1458.5" y="879.7" width="14.3" height="3" fill="#000"/>
<rect x="1980.6" y="879.7" width="14.3" height="3" fill="#000"/>
<rect x="1458.5" y="818.08" width="14.3" height="3" fill="#000"/>
<rect x="1980.6" y="818.08" width="14.3" height="3" fill="#000"/>
<rect x="1458.5" y="756.46" width="14.3" height="3" fill="#000"/>
<rect x="1980.6" y="756.46" width="14.3" height="3" fill="#000"/>
<rect x="1458.5" y="694.85" width="14.3" height="3" fill="#000"/>
<rect x="1980.6" y="694.85" width="14.3" height="3" fill="#000"/>
<rect x="1458.5" y="633.23" width="14.3" height="3" fill="#000"/>
<rect x="1980.6" y="633.23" width="14.3" height="3" fill="#000"/>
<rect x="1458.5" y="571.61" width="14.3" height="3" fill="#000"/>
<rect x="1980.6" y="571.61" width="14.3" height="3" fill="#000"/>
<rect x="1471.3" y="540.8" width="510.8" height="3" fill="#000"/>
<rect x="1471.3" y="879.7" width="510.8" height="3" fill="#000"/>
<rect x="1471.3" y="528" width="3" height="14.3" fill="#000"/>
<rect x="1471.3" y="881.2" width="3" height="14.3" fill="#000"/>
<rect x="1491.61" y="534.5" width="3" height="7.8" fill="#000"/>
<rect x="1491.61" y="881.2" width="3" height="7.8" fill="#000"/>
<rect x="1511.92" y="534.5" width="3" height="7.8" fill="#000"/>
<rect x="1511.92" y="881.2" width="3" height="7.8" fill="#000"/>
<rect x="1532.24" y="534.5" width="3" height="7.8" fill="#000"/>
<rect x="1532.24" y="881.2" width="3" height="7.8" fill="#000"/>
<rect x="1552.55" y="534.5" width="3" height="7.8" fill="#000"/>
<rect x="1552.55" y="881.2" width="3" height="7.8" fill="#000"/>
<rect x="1572.86" y="528" width="3" height="14.3" fill="#000"/>
<rect x="1572.86" y="881.2" width="3" height="14.3" fill="#000"/>
<rect x="1593.17" y="534.5" width="3" height="7.8" fill="#000"/>
<rect x="1593.17" y="881.2" width="3" height="7.8" fill="#000"/>
<rect x="1613.48" y="534.5" width="3" height="7.8" fill="#000"/>
<rect x="1613.48" y="881.2" width="3" height="7.8" fill="#000"/>
<rect x="1633.8" y="534.5" width="3" height="7.8" fill="#000"/>
<rect x="1633.8" y="881.2" width="3" height="7.8" fill="#000"/>
<rect x="1654.11" y="534.5" width="3" height="7.8" fill="#000"/>
<rect x="1654.11" y="881.2" width="3" height="7.8" fill="#000"/>
<rect x="1674.42" y="528" width="3" height="14.3" fill="#000"/>
<rect x="1674.42" y="881.2" width="3" height="14.3" fill="#000"/>
<rect x="1694.73" y="534.5" width="3" height="7.8" fill="#000"/>
<rect x="1694.73" y="881.2" width="3" height="7.8" fill="#000"/>
<rect x="1715.04" y="534.5" width="3" height="7.8" fill="#000"/>
<rect x="1715.04" y="881.2" width="3" height="7.8" fill="#000"/>
<rect x="1735.36" y="534.5" width="3" height="7.8" fill="#000"/>
<rect x="1735.36" y="881.2" width="3" height="7.8" fill="#000"/>
<rect x="1755.67" y="534.5" width="3" height="7.8" fill="#000"/>
<rect x="1755.67" y="881.2" width="3" height="7.8" fill="#000"/>
<rect x="1775.98" y="528" width="3" height="14.3" fill="#000"/>
<rect x="1775.98" y="881.2" width="3" height="14.3" fill="#000"/>
<rect x="1796.29" y="534.5" width="3" height="7.8" fill="#000"/>
<rect x="1796.29" y="881.2" width="3" height="7.8" fill="#000"/>
<rect x="1816.6" y="534.5" width="3" height="7.8" fill="#000"/>
<rect x="1816.6" y="881.2" width="3" height="7.8" fill="#000"/>
<rect x="1836.92" y="534.5" width="3" height="7.8" fill="#000"/>
<rect x="1836.92" y="881.2" width="3" height="7.8" fill="#000"/>
<rect x="1857.23" y="534.5" width="3" height="7.8" fill="#000"/>
<rect x="1857.23" y="881.2" width="3" height="7.8" fill="#000"/>
<rect x="1877.54" y="528" width="3" height="14.3" fill="#000"/>
<rect x="1877.54" y="881.2" width="3" height="14.3" fill="#000"/>
<rect x="1897.85" y="534.5" width="3" height="7.8" fill="#000"/>
<rect x="1897.85" y="881.2" width="3" height="7.8" fill="#000"/>
<rect x="1918.16" y="534.5" width="3" height="7.8" fill="#000"/>
<rect x="1918.16" y="881.2" width="3" height="7.8" fill="#000"/>
<rect x="1938.48" y="534.5" width="3" height="7.8" fill="#000"/>
<rect x="1938.48" y="881.2" width="3" height="7.8" fill="#000"/>
<rect x="1958.79" y="534.5" width="3" height="7.8" fill="#000"/>
<rect x="1958.79" y="881.2" width="3" height="7.8" fill="#000"/>
<rect x="1979.1" y="528" width="3" height="14.3" fill="#000"/>
<rect x="1979.1" y="881.2" width="3" height="14.3" fill="#000"/>
<rect x="1471.3" y="540.8" width="3" height="341.9" fill="#000"/>
<rect x="1979.1" y="540.8" width="3" height="341.9" fill="#000"/>
<text transform="translate(1445.41,882.8) scale(1,1.02)" font-size="17">0</text>
<text transform="translate(1414.89,890.15) scale(1,1.065)" font-size="26">10</text>
<text transform="translate(1445.6,821.18) scale(1,1.02)" font-size="17">2</text>
<text transform="translate(1415.08,828.53) scale(1,1.065)" font-size="26">10</text>
<text transform="translate(1445.24,759.56) scale(1,1.02)" font-size="17">4</text>
<text transform="translate(1414.72,766.91) scale(1,1.065)" font-size="26">10</text>
<text transform="translate(1445.49,697.95) scale(1,1.02)" font-size="17">6</text>
<text transform="translate(1414.97,705.3) scale(1,1.065)" font-size="26">10</text>
<text transform="translate(1445.48,636.33) scale(1,1.02)" font-size="17">8</text>
<text transform="translate(1414.96,643.68) scale(1,1.065)" font-size="26">10</text>
<text transform="translate(1435.95,574.71) scale(1,1.02)" font-size="17">10</text>
<text transform="translate(1405.43,582.06) scale(1,1.065)" font-size="26">10</text>
<text transform="translate(1472.8,923.4) scale(1,1.065)" font-size="26" text-anchor="middle">0</text>
<text transform="translate(1574.36,923.4) scale(1,1.065)" font-size="26" text-anchor="middle">10</text>
<text transform="translate(1675.92,923.4) scale(1,1.065)" font-size="26" text-anchor="middle">20</text>
<text transform="translate(1777.48,923.4) scale(1,1.065)" font-size="26" text-anchor="middle">30</text>
<text transform="translate(1879.04,923.4) scale(1,1.065)" font-size="26" text-anchor="middle">40</text>
<text transform="translate(1980.6,923.4) scale(1,1.065)" font-size="26" text-anchor="middle">50</text>
<circle cx="1868.88" cy="862.2" r="6.75" fill="#a0a0a6"/>
<circle cx="1482.96" cy="582.5" r="6.75" fill="#ff0000"/>
<circle cx="1493.11" cy="571.7" r="6.75" fill="#ff0000"/>
<circle cx="1503.27" cy="597.1" r="6.75" fill="#ff0000"/>
<circle cx="1513.42" cy="642.3" r="6.75" fill="#ff0000"/>
<circle cx="1523.58" cy="679.9" r="6.75" fill="#ff0000"/>
<circle cx="1533.74" cy="709.5" r="6.75" fill="#ff0000"/>
<circle cx="1543.89" cy="761.7" r="6.75" fill="#ff0000"/>
<circle cx="1554.05" cy="741" r="6.75" fill="#ff0000"/>
<circle cx="1564.2" cy="807.2" r="6.75" fill="#ff0000"/>
<circle cx="1625.14" cy="826.6" r="6.75" fill="#ff0000"/>
<circle cx="1655.61" cy="810" r="6.75" fill="#ff0000"/>
<circle cx="1675.92" cy="790" r="6.75" fill="#ff0000"/>
<circle cx="1696.23" cy="808.1" r="6.75" fill="#ff0000"/>
<circle cx="1726.7" cy="825" r="6.75" fill="#ff0000"/>
<circle cx="1939.98" cy="839.6" r="6.75" fill="#ff0000"/>
<text x="1653.32" y="963.9" font-size="28" font-weight="bold">time (days)</text>
<text transform="translate(1387.8,713.25) rotate(-90)" x="-168.1" y="0" font-size="28" font-weight="bold">[CoV RNA] (copies/swab)</text>
<text transform="translate(1469.96,519.7) scale(1,1.05)" font-size="42.5" font-weight="bold">F</text>
<rect x="104.1" y="1368.3" width="14.3" height="3" fill="#000"/>
<rect x="626.2" y="1368.3" width="14.3" height="3" fill="#000"/>
<rect x="104.1" y="1306.68" width="14.3" height="3" fill="#000"/>
<rect x="626.2" y="1306.68" width="14.3" height="3" fill="#000"/>
<rect x="104.1" y="1245.06" width="14.3" height="3" fill="#000"/>
<rect x="626.2" y="1245.06" width="14.3" height="3" fill="#000"/>
<rect x="104.1" y="1183.45" width="14.3" height="3" fill="#000"/>
<rect x="626.2" y="1183.45" width="14.3" height="3" fill="#000"/>
<rect x="104.1" y="1121.83" width="14.3" height="3" fill="#000"/>
<rect x="626.2" y="1121.83" width="14.3" height="3" fill="#000"/>
<rect x="104.1" y="1060.21" width="14.3" height="3" fill="#000"/>
<rect x="626.2" y="1060.21" width="14.3" height="3" fill="#000"/>
<rect x="116.9" y="1029.4" width="510.8" height="3" fill="#000"/>
<rect x="116.9" y="1368.3" width="510.8" height="3" fill="#000"/>
<rect x="116.9" y="1016.6" width="3" height="14.3" fill="#000"/>
<rect x="116.9" y="1369.8" width="3" height="14.3" fill="#000"/>
<rect x="130.44" y="1023.1" width="3" height="7.8" fill="#000"/>
<rect x="130.44" y="1369.8" width="3" height="7.8" fill="#000"/>
<rect x="143.98" y="1023.1" width="3" height="7.8" fill="#000"/>
<rect x="143.98" y="1369.8" width="3" height="7.8" fill="#000"/>
<rect x="157.52" y="1023.1" width="3" height="7.8" fill="#000"/>
<rect x="157.52" y="1369.8" width="3" height="7.8" fill="#000"/>
<rect x="171.07" y="1023.1" width="3" height="7.8" fill="#000"/>
<rect x="171.07" y="1369.8" width="3" height="7.8" fill="#000"/>
<rect x="184.61" y="1016.6" width="3" height="14.3" fill="#000"/>
<rect x="184.61" y="1369.8" width="3" height="14.3" fill="#000"/>
<rect x="198.15" y="1023.1" width="3" height="7.8" fill="#000"/>
<rect x="198.15" y="1369.8" width="3" height="7.8" fill="#000"/>
<rect x="211.69" y="1023.1" width="3" height="7.8" fill="#000"/>
<rect x="211.69" y="1369.8" width="3" height="7.8" fill="#000"/>
<rect x="225.23" y="1023.1" width="3" height="7.8" fill="#000"/>
<rect x="225.23" y="1369.8" width="3" height="7.8" fill="#000"/>
<rect x="238.77" y="1023.1" width="3" height="7.8" fill="#000"/>
<rect x="238.77" y="1369.8" width="3" height="7.8" fill="#000"/>
<rect x="252.31" y="1016.6" width="3" height="14.3" fill="#000"/>
<rect x="252.31" y="1369.8" width="3" height="14.3" fill="#000"/>
<rect x="265.85" y="1023.1" width="3" height="7.8" fill="#000"/>
<rect x="265.85" y="1369.8" width="3" height="7.8" fill="#000"/>
<rect x="279.4" y="1023.1" width="3" height="7.8" fill="#000"/>
<rect x="279.4" y="1369.8" width="3" height="7.8" fill="#000"/>
<rect x="292.94" y="1023.1" width="3" height="7.8" fill="#000"/>
<rect x="292.94" y="1369.8" width="3" height="7.8" fill="#000"/>
<rect x="306.48" y="1023.1" width="3" height="7.8" fill="#000"/>
<rect x="306.48" y="1369.8" width="3" height="7.8" fill="#000"/>
<rect x="320.02" y="1016.6" width="3" height="14.3" fill="#000"/>
<rect x="320.02" y="1369.8" width="3" height="14.3" fill="#000"/>
<rect x="333.56" y="1023.1" width="3" height="7.8" fill="#000"/>
<rect x="333.56" y="1369.8" width="3" height="7.8" fill="#000"/>
<rect x="347.1" y="1023.1" width="3" height="7.8" fill="#000"/>
<rect x="347.1" y="1369.8" width="3" height="7.8" fill="#000"/>
<rect x="360.64" y="1023.1" width="3" height="7.8" fill="#000"/>
<rect x="360.64" y="1369.8" width="3" height="7.8" fill="#000"/>
<rect x="374.19" y="1023.1" width="3" height="7.8" fill="#000"/>
<rect x="374.19" y="1369.8" width="3" height="7.8" fill="#000"/>
<rect x="387.73" y="1016.6" width="3" height="14.3" fill="#000"/>
<rect x="387.73" y="1369.8" width="3" height="14.3" fill="#000"/>
<rect x="401.27" y="1023.1" width="3" height="7.8" fill="#000"/>
<rect x="401.27" y="1369.8" width="3" height="7.8" fill="#000"/>
<rect x="414.81" y="1023.1" width="3" height="7.8" fill="#000"/>
<rect x="414.81" y="1369.8" width="3" height="7.8" fill="#000"/>
<rect x="428.35" y="1023.1" width="3" height="7.8" fill="#000"/>
<rect x="428.35" y="1369.8" width="3" height="7.8" fill="#000"/>
<rect x="441.89" y="1023.1" width="3" height="7.8" fill="#000"/>
<rect x="441.89" y="1369.8" width="3" height="7.8" fill="#000"/>
<rect x="455.43" y="1016.6" width="3" height="14.3" fill="#000"/>
<rect x="455.43" y="1369.8" width="3" height="14.3" fill="#000"/>
<rect x="468.97" y="1023.1" width="3" height="7.8" fill="#000"/>
<rect x="468.97" y="1369.8" width="3" height="7.8" fill="#000"/>
<rect x="482.52" y="1023.1" width="3" height="7.8" fill="#000"/>
<rect x="482.52" y="1369.8" width="3" height="7.8" fill="#000"/>
<rect x="496.06" y="1023.1" width="3" height="7.8" fill="#000"/>
<rect x="496.06" y="1369.8" width="3" height="7.8" fill="#000"/>
<rect x="509.6" y="1023.1" width="3" height="7.8" fill="#000"/>
<rect x="509.6" y="1369.8" width="3" height="7.8" fill="#000"/>
<rect x="523.14" y="1016.6" width="3" height="14.3" fill="#000"/>
<rect x="523.14" y="1369.8" width="3" height="14.3" fill="#000"/>
<rect x="536.68" y="1023.1" width="3" height="7.8" fill="#000"/>
<rect x="536.68" y="1369.8" width="3" height="7.8" fill="#000"/>
<rect x="550.22" y="1023.1" width="3" height="7.8" fill="#000"/>
<rect x="550.22" y="1369.8" width="3" height="7.8" fill="#000"/>
<rect x="563.76" y="1023.1" width="3" height="7.8" fill="#000"/>
<rect x="563.76" y="1369.8" width="3" height="7.8" fill="#000"/>
<rect x="577.31" y="1023.1" width="3" height="7.8" fill="#000"/>
<rect x="577.31" y="1369.8" width="3" height="7.8" fill="#000"/>
<rect x="590.85" y="1016.6" width="3" height="14.3" fill="#000"/>
<rect x="590.85" y="1369.8" width="3" height="14.3" fill="#000"/>
<rect x="604.39" y="1023.1" width="3" height="7.8" fill="#000"/>
<rect x="604.39" y="1369.8" width="3" height="7.8" fill="#000"/>
<rect x="617.93" y="1023.1" width="3" height="7.8" fill="#000"/>
<rect x="617.93" y="1369.8" width="3" height="7.8" fill="#000"/>
<rect x="116.9" y="1029.4" width="3" height="341.9" fill="#000"/>
<rect x="624.7" y="1029.4" width="3" height="341.9" fill="#000"/>
<text transform="translate(91.01,1371.4) scale(1,1.02)" font-size="17">0</text>
<text transform="translate(60.49,1378.75) scale(1,1.065)" font-size="26">10</text>
<text transform="translate(91.2,1309.78) scale(1,1.02)" font-size="17">2</text>
<text transform="translate(60.68,1317.13) scale(1,1.065)" font-size="26">10</text>
<text transform="translate(90.84,1248.16) scale(1,1.02)" font-size="17">4</text>
<text transform="translate(60.32,1255.51) scale(1,1.065)" font-size="26">10</text>
<text transform="translate(91.09,1186.55) scale(1,1.02)" font-size="17">6</text>
<text transform="translate(60.57,1193.9) scale(1,1.065)" font-size="26">10</text>
<text transform="translate(91.08,1124.93) scale(1,1.02)" font-size="17">8</text>
<text transform="translate(60.56,1132.28) scale(1,1.065)" font-size="26">10</text>
<text transform="translate(81.55,1063.31) scale(1,1.02)" font-size="17">10</text>
<text transform="translate(51.03,1070.66) scale(1,1.065)" font-size="26">10</text>
<text transform="translate(118.4,1412) scale(1,1.065)" font-size="26" text-anchor="middle">0</text>
<text transform="translate(186.11,1412) scale(1,1.065)" font-size="26" text-anchor="middle">10</text>
<text transform="translate(253.81,1412) scale(1,1.065)" font-size="26" text-anchor="middle">20</text>
<text transform="translate(321.52,1412) scale(1,1.065)" font-size="26" text-anchor="middle">30</text>
<text transform="translate(389.23,1412) scale(1,1.065)" font-size="26" text-anchor="middle">40</text>
<text transform="translate(456.93,1412) scale(1,1.065)" font-size="26" text-anchor="middle">50</text>
<text transform="translate(524.64,1412) scale(1,1.065)" font-size="26" text-anchor="middle">60</text>
<text transform="translate(592.35,1412) scale(1,1.065)" font-size="26" text-anchor="middle">70</text>
<circle cx="396" cy="1334" r="5.4" fill="#a0a0a6"/>
<circle cx="585.58" cy="1344.1" r="5.4" fill="#a0a0a6"/>
<circle cx="159.02" cy="1302.7" r="5.4" fill="#ff0000"/>
<circle cx="165.79" cy="1202.8" r="5.4" fill="#ff0000"/>
<circle cx="172.57" cy="1134.5" r="5.4" fill="#ff0000"/>
<circle cx="179.34" cy="1058.5" r="5.4" fill="#ff0000"/>
<circle cx="186.11" cy="1061.4" r="5.4" fill="#ff0000"/>
<circle cx="192.88" cy="1103.4" r="5.4" fill="#ff0000"/>
<circle cx="199.65" cy="1148.6" r="5.4" fill="#ff0000"/>
<circle cx="206.42" cy="1153.4" r="5.4" fill="#ff0000"/>
<circle cx="213.19" cy="1184.7" r="5.4" fill="#ff0000"/>
<circle cx="219.96" cy="1169.6" r="5.4" fill="#ff0000"/>
<circle cx="226.73" cy="1176.2" r="5.4" fill="#ff0000"/>
<circle cx="233.5" cy="1249.8" r="5.4" fill="#ff0000"/>
<circle cx="240.27" cy="1216.6" r="5.4" fill="#ff0000"/>
<circle cx="247.04" cy="1201.5" r="5.4" fill="#ff0000"/>
<circle cx="253.81" cy="1194.5" r="5.4" fill="#ff0000"/>
<circle cx="260.58" cy="1207" r="5.4" fill="#ff0000"/>
<circle cx="267.35" cy="1241.6" r="5.4" fill="#ff0000"/>
<circle cx="274.13" cy="1283.8" r="5.4" fill="#ff0000"/>
<circle cx="280.9" cy="1247.7" r="5.4" fill="#ff0000"/>
<circle cx="287.67" cy="1294.7" r="5.4" fill="#ff0000"/>
<circle cx="294.44" cy="1258" r="5.4" fill="#ff0000"/>
<circle cx="301.21" cy="1278.2" r="5.4" fill="#ff0000"/>
<circle cx="307.98" cy="1276.9" r="5.4" fill="#ff0000"/>
<circle cx="314.75" cy="1274.3" r="5.4" fill="#ff0000"/>
<circle cx="321.52" cy="1255.1" r="5.4" fill="#ff0000"/>
<circle cx="328.29" cy="1281.4" r="5.4" fill="#ff0000"/>
<circle cx="335.06" cy="1278" r="5.4" fill="#ff0000"/>
<circle cx="341.83" cy="1293.6" r="5.4" fill="#ff0000"/>
<circle cx="348.6" cy="1289.4" r="5.4" fill="#ff0000"/>
<circle cx="362.14" cy="1296.8" r="5.4" fill="#ff0000"/>
<circle cx="368.91" cy="1297.1" r="5.4" fill="#ff0000"/>
<circle cx="375.69" cy="1321" r="5.4" fill="#ff0000"/>
<circle cx="382.46" cy="1277.7" r="5.4" fill="#ff0000"/>
<circle cx="389.23" cy="1302.1" r="5.4" fill="#ff0000"/>
<circle cx="409.54" cy="1297.9" r="5.4" fill="#ff0000"/>
<circle cx="423.08" cy="1318.6" r="5.4" fill="#ff0000"/>
<circle cx="443.39" cy="1304.5" r="5.4" fill="#ff0000"/>
<circle cx="456.93" cy="1313.8" r="5.4" fill="#ff0000"/>
<circle cx="470.47" cy="1281.2" r="5.4" fill="#ff0000"/>
<circle cx="490.79" cy="1314.4" r="5.4" fill="#ff0000"/>
<circle cx="504.33" cy="1296.6" r="5.4" fill="#ff0000"/>
<circle cx="538.18" cy="1297.4" r="5.4" fill="#ff0000"/>
<circle cx="565.26" cy="1320.2" r="5.4" fill="#ff0000"/>
<polygon points="125.17,1361.5 127.11,1367.13 133.06,1367.24 128.31,1370.82 130.05,1376.51 125.17,1373.1 120.29,1376.51 122.03,1370.82 117.28,1367.24 123.23,1367.13" fill="#00c000"/>
<polygon points="517.87,1361.5 519.81,1367.13 525.76,1367.24 521.01,1370.82 522.75,1376.51 517.87,1373.1 512.99,1376.51 514.73,1370.82 509.98,1367.24 515.93,1367.13" fill="#00c000"/>
<polygon points="551.72,1361.5 553.66,1367.13 559.62,1367.24 554.86,1370.82 556.6,1376.51 551.72,1373.1 546.84,1376.51 548.58,1370.82 543.83,1367.24 549.78,1367.13" fill="#00c000"/>
<polygon points="599.12,1361.5 601.06,1367.13 607.01,1367.24 602.26,1370.82 604,1376.51 599.12,1373.1 594.24,1376.51 595.98,1370.82 591.22,1367.24 597.18,1367.13" fill="#00c000"/>
<text x="298.92" y="1452.5" font-size="28" font-weight="bold">time (days)</text>
<text transform="translate(21,1201.85) rotate(-90)" x="-168.1" y="0" font-size="28" font-weight="bold">[CoV RNA] (copies/swab)</text>
<text transform="translate(116.66,1008.3) scale(1,1.05)" font-size="42.5" font-weight="bold">G</text>
<rect x="781.1" y="1368.1" width="354.4" height="3" fill="#000"/>
<rect x="793.9" y="1029.1" width="3" height="354.8" fill="#000"/>
<text transform="translate(763.56,1378.6) scale(1,1.065)" font-size="26">0</text>
<rect x="781.1" y="1300.3" width="14.3" height="3" fill="#000"/>
<text transform="translate(763.63,1310.8) scale(1,1.065)" font-size="26">5</text>
<rect x="781.1" y="1232.5" width="14.3" height="3" fill="#000"/>
<text transform="translate(749.1,1243) scale(1,1.065)" font-size="26">10</text>
<rect x="781.1" y="1164.7" width="14.3" height="3" fill="#000"/>
<text transform="translate(749.17,1175.2) scale(1,1.065)" font-size="26">15</text>
<rect x="781.1" y="1096.9" width="14.3" height="3" fill="#000"/>
<text transform="translate(749.1,1107.4) scale(1,1.065)" font-size="26">20</text>
<rect x="781.1" y="1029.1" width="14.3" height="3" fill="#000"/>
<text transform="translate(749.17,1039.6) scale(1,1.065)" font-size="26">25</text>
<text transform="translate(795.4,1410.9) scale(1,1.065)" font-size="26" text-anchor="middle">5</text>
<rect x="861.62" y="1369.6" width="3" height="14.3" fill="#000"/>
<text transform="translate(863.12,1410.9) scale(1,1.065)" font-size="26" text-anchor="middle">6</text>
<rect x="929.34" y="1369.6" width="3" height="14.3" fill="#000"/>
<text transform="translate(930.84,1410.9) scale(1,1.065)" font-size="26" text-anchor="middle">7</text>
<rect x="997.06" y="1369.6" width="3" height="14.3" fill="#000"/>
<text transform="translate(998.56,1410.9) scale(1,1.065)" font-size="26" text-anchor="middle">8</text>
<rect x="1064.78" y="1369.6" width="3" height="14.3" fill="#000"/>
<text transform="translate(1066.28,1410.9) scale(1,1.065)" font-size="26" text-anchor="middle">9</text>
<rect x="1132.5" y="1369.6" width="3" height="14.3" fill="#000"/>
<text transform="translate(1134,1410.9) scale(1,1.065)" font-size="26" text-anchor="middle">10</text>
<line x1="863.12" y1="1293.66" x2="1066.28" y2="1053.65" stroke="#000" stroke-width="1.6"/>
<circle cx="863.12" cy="1301.8" r="6.7" fill="#000"/>
<circle cx="930.84" cy="1200.51" r="6.7" fill="#000"/>
<circle cx="998.56" cy="1131.22" r="6.7" fill="#000"/>
<circle cx="1066.28" cy="1054.19" r="6.7" fill="#000"/>
<text x="891.32" y="1452.3" font-size="28" font-weight="bold">time (days)</text>
<text transform="translate(721.1,1200.3) rotate(-90)" x="-195.15" y="0" font-size="28" font-weight="bold"><tspan letter-spacing="-0.7">log</tspan><tspan font-size="20" dx="-0.3" dy="6.3">e</tspan><tspan dx="2.6" dy="-6.3">[CoV RNA] (copies/swab)</tspan></text>
<text transform="translate(791.86,1008.8) scale(1,1.05)" font-size="42.5" font-weight="bold">H</text>
<rect x="1499" y="1211.3" width="52" height="158.2" fill="#0000ff"/>
<rect x="1576.8" y="1200.6" width="52.2" height="168.9" fill="#0000ff"/>
<rect x="1654.9" y="1188.8" width="52.3" height="180.7" fill="#0000ff"/>
<rect x="1733.1" y="1076.2" width="52.2" height="293.3" fill="#0000ff"/>
<rect x="1457.9" y="1368" width="506.8" height="3" fill="#000"/>
<rect x="1471.2" y="1029.6" width="3" height="341.4" fill="#000"/>
<rect x="1457.9" y="1368" width="14.8" height="3" fill="#000"/>
<text transform="translate(1440.56,1378.5) scale(1,1.065)" font-size="26">0</text>
<rect x="1465" y="1311.6" width="7.7" height="3" fill="#000"/>
<rect x="1457.9" y="1255.2" width="14.8" height="3" fill="#000"/>
<text transform="translate(1440.85,1265.7) scale(1,1.065)" font-size="26">2</text>
<rect x="1465" y="1198.8" width="7.7" height="3" fill="#000"/>
<rect x="1457.9" y="1142.4" width="14.8" height="3" fill="#000"/>
<text transform="translate(1440.3,1152.9) scale(1,1.065)" font-size="26">4</text>
<rect x="1465" y="1086" width="7.7" height="3" fill="#000"/>
<rect x="1457.9" y="1029.6" width="14.8" height="3" fill="#000"/>
<text transform="translate(1440.68,1040.1) scale(1,1.065)" font-size="26">6</text>
<rect x="1522.7" y="1369.5" width="3" height="14.3" fill="#000"/>
<text x="1499.29" y="1411.6" font-size="26" font-weight="bold">ID-2</text>
<rect x="1600.8" y="1369.5" width="3" height="14.3" fill="#000"/>
<text x="1570" y="1411.6" font-size="26" font-weight="bold">ID-21</text>
<rect x="1679.2" y="1369.5" width="3" height="14.3" fill="#000"/>
<text x="1648.44" y="1411.6" font-size="26" font-weight="bold">ID-38</text>
<rect x="1757.4" y="1369.5" width="3" height="14.3" fill="#000"/>
<text x="1726.64" y="1411.6" font-size="26" font-weight="bold">ID-48</text>
<rect x="1877.6" y="1369.5" width="3" height="14.3" fill="#000"/>
<text x="1825.26" y="1411.6" font-size="26" font-weight="bold">Grouped</text>
<rect x="1876.95" y="1076.5" width="4.7" height="30.7" fill="#000"/>
<rect x="1851.1" y="1074.15" width="55.9" height="4.7" fill="#000"/>
<rect x="1851.1" y="1209.25" width="55.9" height="4.7" fill="#000"/>
<rect x="1825.3" y="1107.1" width="107.9" height="99.6" fill="#ff0000" stroke="#000" stroke-width="4.7"/>
<rect x="1825.3" y="1192.65" width="107.9" height="4.7" fill="#000"/>
<text transform="translate(1418.8,1201.2) rotate(-90)" x="-36.72" y="0" font-size="28" font-weight="bold"><tspan font-style="italic">T</tspan><tspan font-size="20" font-style="italic" dy="6.4">d</tspan><tspan dx="0.6" dy="-6.4"> (h)</tspan></text>
<text transform="translate(1470.36,1008.6) scale(1,1.05)" font-size="42.5" font-weight="bold">I</text>
</svg></body></html>
